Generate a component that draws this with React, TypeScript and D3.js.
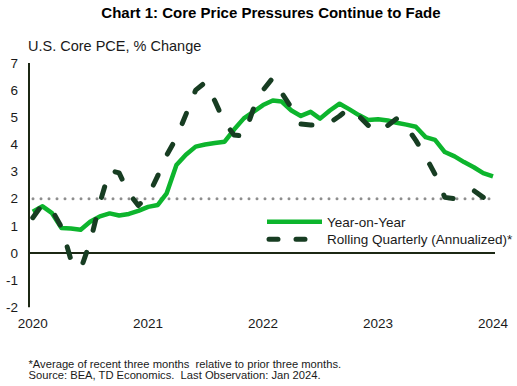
import * as d3 from 'd3';

// monthly observations, Jan 2020 .. Jan 2024
const months = d3.timeMonth.range(new Date(2020, 0, 1), new Date(2024, 1, 1));

const yearOnYear = [
  1.52, 1.72, 1.48, 0.92, 0.9, 0.86, 1.15, 1.35, 1.46, 1.38, 1.44, 1.55,
  1.7, 1.77, 2.2, 3.24, 3.62, 3.92, 4.0, 4.05, 4.1, 4.55, 4.96, 5.2,
  5.45, 5.62, 5.58, 5.25, 5.05, 5.2, 4.95, 5.25, 5.5, 5.3, 5.08, 4.9,
  4.93, 4.88, 4.8, 4.73, 4.65, 4.27, 4.17, 3.72, 3.56, 3.35, 3.16, 2.94,
  2.82,
];

const rollingQuarterly = [
  1.3, 1.8, 1.6, 0.95, -0.25, -0.6, 0.4, 1.85, 3.05, 2.95, 2.2, 1.75,
  2.1, 2.85, 3.6, 4.25, 5.1, 6.0, 6.28, 5.6, 4.8, 4.35, 4.3, 5.3,
  6.0, 6.45, 5.9, 5.35, 4.75, 4.72, 4.72, 4.8, 5.05, 5.33, 5.05, 4.7,
  4.47, 4.7, 4.95, 4.65, 4.15, 3.55, 2.9, 2.05, 2.0, 2.15, 2.3, 2.05,
  2.2,
];

const yTicks = [-2, -1, 0, 1, 2, 3, 4, 5, 6, 7];
const target = 2;

const seriesNames = ['Year-on-Year', 'Rolling Quarterly (Annualized)*'];
const footnotes = [
  '*Average of recent three months  relative to prior three months.',
  'Source: BEA, TD Economics.  Last Observation: Jan 2024.',
];

const FONT = "'Liberation Sans', Arial, sans-serif";
const GREEN = '#0db52d';
const DARK = '#173d22';
const AXIS = '#1c2814';

const App = () => {
  const width = 517;
  const height = 386;
  const left = 29;
  const right = 495;

  const x = d3
    .scaleTime()
    .domain([new Date(2020, 0, 1), new Date(2024, 0, 1)])
    .range([32.8, 493]);

  const y = d3.scaleLinear().domain([-2, 7]).range([307.3, 63]);

  const line = d3
    .line<number>()
    .x((_, i) => x(months[i]))
    .y((d) => y(d));

  const years = x.ticks(d3.timeYear.every(1));

  return (
    <svg
      width={width}
      height={height}
      style={{ position: 'absolute', left: 0, top: 0, background: '#fff' }}
      fontFamily={FONT}
    >
      <text x={271} y={18} textAnchor="middle" fontSize={15} fontWeight="bold" fill="#000">
        Chart 1: Core Price Pressures Continue to Fade
      </text>
      <text x={28} y={51} fontSize={14.5} fill="#1a1a1a">
        U.S. Core PCE, % Change
      </text>

      {/* y tick labels */}
      {yTicks.map((t) => (
        <text key={t} x={18} y={y(t)} dy="0.35em" textAnchor="end" fontSize={13.5} fill="#1a1a1a">
          {t}
        </text>
      ))}

      {/* x tick labels */}
      {years.map((d) => (
        <text key={+d} x={x(d)} y={328} textAnchor="middle" fontSize={13.5} fill="#1a1a1a">
          {d3.timeFormat('%Y')(d)}
        </text>
      ))}

      {/* 2% reference */}
      <line
        x1={left + 4}
        x2={right}
        y1={y(target)}
        y2={y(target)}
        stroke="#8e8e8e"
        strokeWidth={3}
        strokeLinecap="round"
        strokeDasharray="0 8"
      />

      {/* axes */}
      <line x1={left} x2={right} y1={y(0)} y2={y(0)} stroke={AXIS} strokeWidth={2} />
      <line x1={left} x2={left} y1={y(7)} y2={y(-2)} stroke={AXIS} strokeWidth={2} />

      <path d={line(yearOnYear) || ''} fill="none" stroke={GREEN} strokeWidth={4.5} strokeLinejoin="round" />
      <path
        d={line(rollingQuarterly) || ''}
        fill="none"
        stroke={DARK}
        strokeWidth={5}
        strokeLinecap="round"
        strokeLinejoin="round"
        strokeDasharray="11 23"
      />

      {/* legend */}
      <line x1={267} x2={322} y1={221.7} y2={221.7} stroke={GREEN} strokeWidth={4.5} />
      <text x={327} y={226.5} fontSize={13.5} fill="#1a1a1a">
        {seriesNames[0]}
      </text>
      <line
        x1={269}
        x2={310}
        y1={239.3}
        y2={239.3}
        stroke={DARK}
        strokeWidth={5}
        strokeLinecap="round"
        strokeDasharray="9 18"
      />
      <text x={327} y={244} fontSize={13.5} fill="#1a1a1a">
        {seriesNames[1]}
      </text>

      {footnotes.map((f, i) => (
        <text
          key={i}
          x={28.5}
          y={368 + i * 11.3}
          fontSize={11.2}
          fill="#1a1a1a"
          style={{ whiteSpace: 'pre' }}
        >
          {f}
        </text>
      ))}
    </svg>
  );
};

export default App;
